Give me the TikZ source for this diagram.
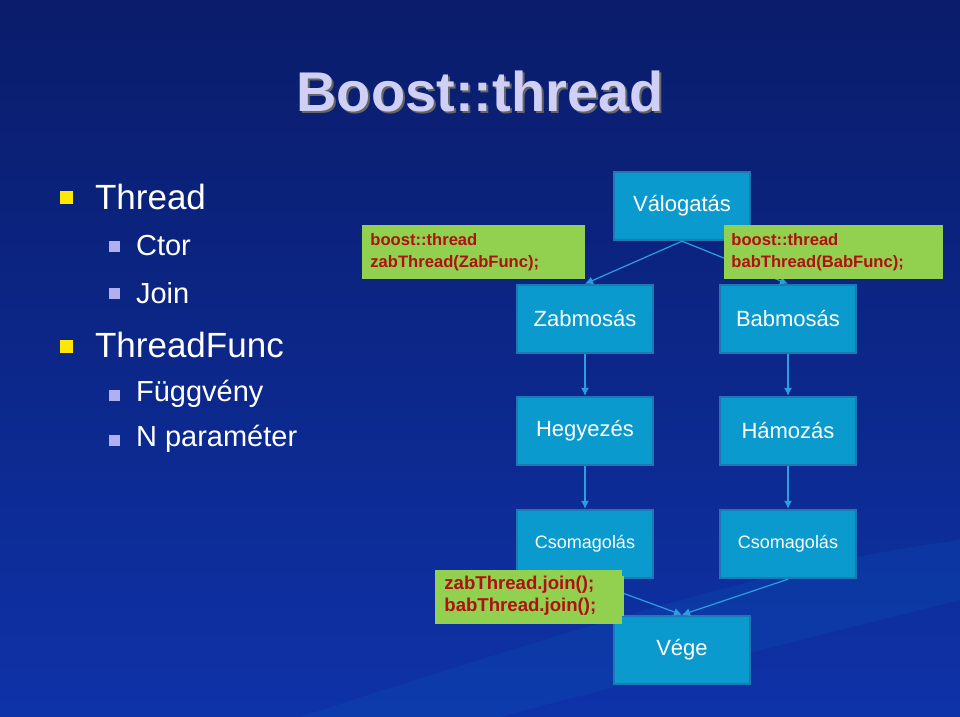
\documentclass[tikz,border=0pt]{standalone}
\usepackage{fontspec}
\setmainfont{Liberation Sans}
\begin{document}
\begin{tikzpicture}[x=0.5pt,y=-0.5pt,
  bx/.style={draw=boxline,line width=1.2pt,fill=boxfill,text=white,minimum width=68pt,minimum height=34pt,inner sep=0pt,font=\fontsize{11}{13}\selectfont},
  code/.style={fill=codefill,text=codered,font=\fontsize{8.3}{11}\selectfont\bfseries,align=left,inner sep=0pt,anchor=north west,text width=#1},
  ar/.style={draw=arrowc,line width=0.6pt,-{Latex[length=4pt,width=4pt]}},
  mb/.style={fill=yellow!90!orange,minimum size=6.5pt,inner sep=0pt},
  sb/.style={fill=lav,minimum size=5.5pt,inner sep=0pt},
  mt/.style={anchor=west,text=white,font=\fontsize{17.5}{20}\selectfont},
  st/.style={anchor=west,text=white,font=\fontsize{14.5}{17}\selectfont}]
\usetikzlibrary{arrows.meta}
\definecolor{boxfill}{HTML}{0A9ACD}
\definecolor{boxline}{HTML}{1E78B4}
\definecolor{codefill}{HTML}{92D050}
\definecolor{codered}{HTML}{B01010}
\definecolor{arrowc}{HTML}{2AA0E0}
\definecolor{lav}{HTML}{B0B0F0}
\definecolor{bgtop}{HTML}{0A1C6A}
\definecolor{bgbot}{HTML}{0E32A8}
\useasboundingbox (0,0) rectangle (960,717);
\shade[top color=bgtop,bottom color=bgbot] (0,0) rectangle (960,717);
\fill[bgbot!85!cyan,opacity=0.3] (300,717) .. controls (600,620) and (800,560) .. (960,540) -- (960,600) .. controls (800,640) and (600,690) .. (500,717) -- cycle;
\node[text=black!60,font=\fontsize{28}{30}\selectfont\bfseries] at (482,93) {Boost::thread};
\node[text=lav!60!white,font=\fontsize{28}{30}\selectfont\bfseries] (title) at (480,91) {Boost::thread};
\node[mb] (b1) at (66,198) {}; \node[mt] (t1) at (88,197) {Thread};
\node[sb] (b2) at (114,247) {}; \node[st] (t2) at (129,246) {Ctor};
\node[sb] (b3) at (114,294) {}; \node[st] (t3) at (129,293) {Join};
\node[mb] (b4) at (66,346) {}; \node[mt] (t4) at (88,345) {ThreadFunc};
\node[sb] (b5) at (114,395) {}; \node[st] (t5) at (129,394) {Függvény};
\node[sb] (b6) at (114,440) {}; \node[st] (t6) at (129,439) {N paraméter};
\node[bx] (v) at (682,206) {\raisebox{-2pt}{Válogatás}};
\node[bx] (z) at (585,319) {Zabmosás};
\node[bx] (b) at (788,319) {Babmosás};
\node[bx] (h) at (585,431) {\raisebox{-1pt}{Hegyezés}};
\node[bx] (ha) at (788,431) {Hámozás};
\node[bx,font=\fontsize{9}{11}\selectfont] (c1) at (585,544) {Csomagolás};
\node[bx,font=\fontsize{9}{11}\selectfont] (c2) at (788,544) {Csomagolás};
\node[bx] (e) at (682,650) {Vége};
\draw[ar] (v.south) -- (z.north);
\draw[ar] (v.south) -- (b.north);
\draw[ar] (z) -- (h);
\draw[ar] (b) -- (ha);
\draw[ar] (h) -- (c1);
\draw[ar] (ha) -- (c2);
\draw[ar] (c1.south) -- (e.north);
\draw[ar] (c2.south) -- (e.north);
\fill[codefill] (362,225) rectangle (585,279);
\node[code=105pt] (g1) at (370,233) {boost::thread\\zabThread(ZabFunc);};
\fill[codefill] (724,225) rectangle (943,279);
\node[code=105pt] (g2) at (731,233) {boost::thread\\babThread(BabFunc);};
\fill[codefill] (435,570) rectangle (622,624);
\node[code=90pt,font=\fontsize{9.3}{11}\selectfont\bfseries] (g3) at (444,576) {zabThread.join();\\babThread.join();};
\end{tikzpicture}
\end{document}
